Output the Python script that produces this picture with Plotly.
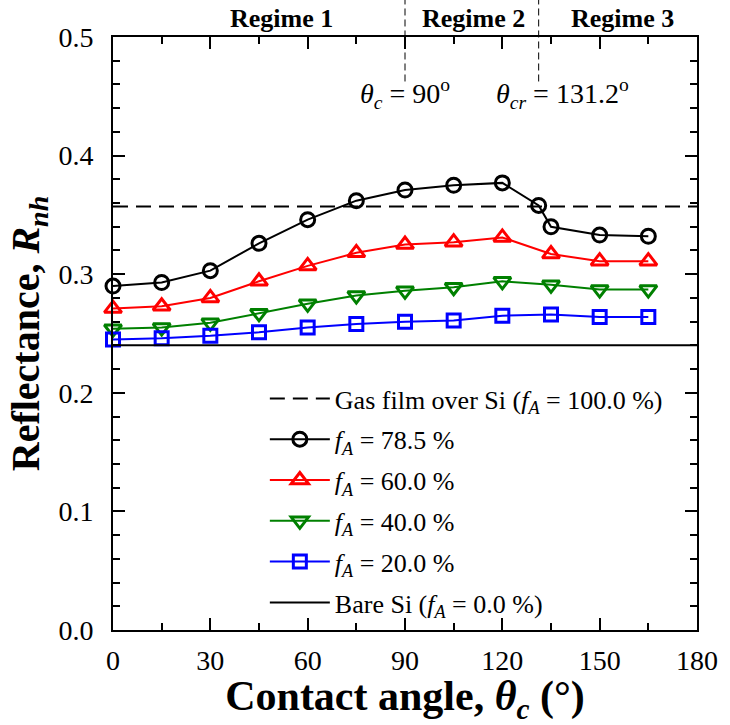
import plotly.graph_objects as go

# ---- data ----
theta = [0, 15, 30, 45, 60, 75, 90, 105, 120, 135, 150, 165]
theta_785 = [0, 15, 30, 45, 60, 75, 90, 105, 120, 131.2, 135, 150, 165]
r_785 = [0.290, 0.293, 0.303, 0.326, 0.346, 0.362, 0.371, 0.375, 0.377, 0.358, 0.340, 0.333, 0.332]
r_600 = [0.271, 0.273, 0.280, 0.294, 0.307, 0.318, 0.325, 0.327, 0.331, 0.317, 0.311, 0.311]
r_400 = [0.254, 0.255, 0.259, 0.267, 0.275, 0.282, 0.286, 0.289, 0.294, 0.291, 0.287, 0.287]
r_200 = [0.245, 0.246, 0.248, 0.251, 0.255, 0.258, 0.260, 0.261, 0.265, 0.266, 0.264, 0.264]
gas_film = 0.357
bare_si = 0.240
x_span = [0, 180]
regime_x = [90, 131.2]
regime_labels = ["Regime 1", "Regime 2", "Regime 3"]
regime_label_x = [52, 111, 157]

FONT = "Liberation Serif, Times New Roman, serif"

fig = go.Figure()

fig.add_trace(go.Scatter(x=x_span, y=[gas_film, gas_film], mode="lines",
                         line=dict(color="black", width=2, dash="15px,8px"),
                         name="Gas film over Si (<i>f</i><sub><i>A</i></sub> = 100.0 %)",
                         legendgroup="g0"))
series = [
    (theta_785, r_785, "black", "circle-open", 14, "<i>f</i><sub><i>A</i></sub> = 78.5 %"),
    (theta, r_600, "#ff0000", "triangle-up-open", 15, "<i>f</i><sub><i>A</i></sub> = 60.0 %"),
    (theta, r_400, "#008000", "triangle-down-open", 15, "<i>f</i><sub><i>A</i></sub> = 40.0 %"),
    (theta, r_200, "#0000ff", "square-open", 13, "<i>f</i><sub><i>A</i></sub> = 20.0 %"),
]
for i, (xs, ys, c, sym, sz, nm) in enumerate(series):
    fig.add_trace(go.Scatter(x=xs, y=ys, mode="lines+markers",
                             line=dict(color=c, width=2),
                             marker=dict(symbol=sym, size=sz, color=c,
                                         line=dict(color=c, width=3)),
                             name=nm, legendgroup=f"g{i+1}", cliponaxis=False))
fig.add_trace(go.Scatter(x=x_span, y=[bare_si, bare_si], mode="lines",
                         line=dict(color="black", width=2),
                         name="Bare Si (<i>f</i><sub><i>A</i></sub> = 0.0 %)",
                         legendgroup="g5"))

for xv in regime_x:
    fig.add_shape(type="line", xref="x", yref="paper", x0=xv, x1=xv, y0=0.925, y1=1.065,
                  line=dict(color="black", width=1, dash="7px,4px"))

for lbl, xv in zip(regime_labels, regime_label_x):
    fig.add_annotation(x=xv, xref="x", y=1.032, yref="paper", yanchor="middle",
                       text=f"<b>{lbl}</b>",
                       showarrow=False, font=dict(family=FONT, size=26, color="black"))

fig.add_annotation(x=90, xref="x", y=0.452, yref="y", yanchor="middle",
                   text="<i>θ</i><sub><i>c</i></sub> = 90<sup>o</sup>",
                   showarrow=False, font=dict(family=FONT, size=28, color="black"))
fig.add_annotation(x=138.5, xref="x", y=0.452, yref="y", yanchor="middle",
                   text="<i>θ</i><sub><i>cr</i></sub> = 131.2<sup>o</sup>",
                   showarrow=False, font=dict(family=FONT, size=28, color="black"))

axis_common = dict(showline=True, linewidth=2, linecolor="black", mirror="ticks",
                   ticks="inside", tickwidth=1.5, tickcolor="black", ticklen=12,
                   showgrid=False, zeroline=False,
                   tickfont=dict(family=FONT, size=28, color="black"))

fig.update_xaxes(range=[0, 180], tickmode="linear", tick0=0, dtick=30,
                 minor=dict(ticks="inside", dtick=15, ticklen=7, tickwidth=1.5, tickcolor="black", showgrid=False),
                 ticklabelstandoff=4,
                 title=dict(text="<b>Contact angle, <i>θ</i><sub><i>c</i></sub> (°)</b>",
                            font=dict(family=FONT, size=42, color="black"), standoff=3),
                 **axis_common)
fig.update_yaxes(range=[0, 0.5], tickmode="linear", tick0=0, dtick=0.1, tickformat=".1f",
                 minor=dict(ticks="inside", dtick=0.02, ticklen=7, tickwidth=1.5, tickcolor="black", showgrid=False),
                 ticklabelstandoff=12,
                 title=dict(text="<b>Reflectance, <i>R</i><sub><i>nh</i></sub></b>",
                            font=dict(family=FONT, size=40, color="black"), standoff=6),
                 **axis_common)

fig.update_layout(
    width=730, height=725,
    margin=dict(l=113, r=25, t=37, b=95),
    plot_bgcolor="white", paper_bgcolor="white",
    font=dict(family=FONT, color="black"),
    showlegend=True,
    legend=dict(x=0.26, y=0.43, xanchor="left", yanchor="top",
                bgcolor="rgba(0,0,0,0)", borderwidth=0,
                font=dict(family=FONT, size=26, color="black"),
                tracegroupgap=4, itemwidth=60),
)

fig.write_html("out.html")
